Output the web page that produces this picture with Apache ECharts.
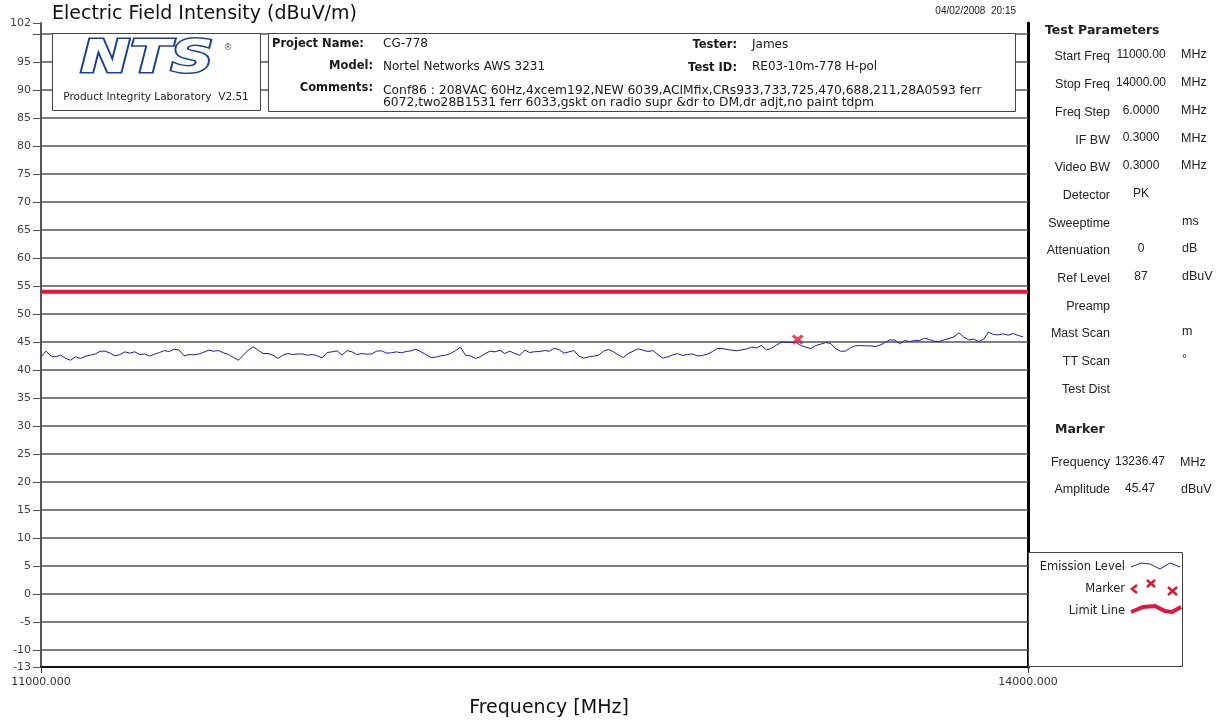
<!DOCTYPE html>
<html>
<head>
<meta charset="utf-8">
<title>Electric Field Intensity</title>
<script src="https://cdn.jsdelivr.net/npm/echarts@6.0.0/dist/echarts.min.js"></script>
<style>
html,body{margin:0;padding:0;background:#fff;}
#chart{width:1221px;height:721px;}
</style>
</head>
<body>
<div id="chart"></div>
<script>
var SWEEP_START = 11000;
var SWEEP_STEP = 15;
var emissionLevel = [
  42.39, 43.40, 42.56, 42.39, 42.68, 42.09, 41.79, 42.39, 42.09, 42.50, 42.68,
  42.90, 43.40, 43.40, 43.05, 42.56, 42.80, 43.28, 43.05, 43.28, 42.80,
  42.90, 42.50, 42.86, 43.16, 43.50, 43.34, 43.75, 43.58, 42.56, 42.80,
  42.74, 42.90, 43.22, 43.58, 43.40, 43.50, 43.10, 42.80, 42.27, 41.79,
  42.68, 43.58, 44.17, 43.58, 42.98, 42.98, 42.68, 42.09, 42.68, 42.98,
  42.80, 42.90, 42.90, 42.68, 42.80, 42.56, 42.21, 43.16, 43.28, 43.46,
  42.68, 43.50, 43.28, 42.80, 42.98, 42.86, 42.90, 43.40, 43.46, 43.05,
  43.10, 43.28, 43.10, 43.34, 43.46, 43.75, 43.28, 42.80, 42.27, 42.33,
  42.56, 42.68, 42.98, 43.50, 44.10, 42.68, 42.56, 42.09, 42.39, 42.98,
  43.40, 43.28, 43.58, 42.98, 43.40, 42.98, 42.68, 43.58, 43.16, 43.30,
  43.34, 43.50, 43.40, 43.93, 43.64, 43.05, 43.28, 43.50, 42.50, 42.15,
  42.39, 42.50, 42.68, 43.40, 43.70, 43.28, 42.68, 42.27, 42.98, 43.40,
  43.80, 43.58, 43.34, 43.50, 42.80, 42.15, 42.39, 42.74, 42.98, 42.62,
  42.80, 42.90, 42.56, 42.62, 42.86, 43.28, 43.87, 43.87, 43.70, 43.58,
  43.46, 43.64, 43.80, 44.10, 43.99, 44.41, 43.64, 43.87, 44.47, 45.00,
  45.00, 44.94, 44.94, 44.41, 44.10, 43.87, 44.41, 44.65, 44.94, 44.77,
  43.87, 43.40, 43.40, 43.99, 44.35, 44.41, 44.35, 44.35, 44.23, 44.47,
  44.94, 45.42, 45.36, 44.71, 45.30, 45.12, 45.30, 45.30, 45.72, 45.48,
  45.18, 45.12, 45.42, 45.66, 45.96, 46.67, 45.90, 45.42, 45.54, 45.12,
  45.54, 46.79, 46.37, 46.30, 46.49, 46.25, 46.55, 46.20, 45.96
];
var limitLine = [[11000, 54], [14000, 54]];
var markerPoint = [[13300, 45.47]];

var xLabelValues = [11000, 14000];
var yTickValues = [-13, -10, -5, 0, 5, 10, 15, 20, 25, 30, 35, 40, 45, 50, 55, 60, 65, 70, 75, 80, 85, 90, 95, 100, 102];
var yLabelValues = [-13, -10, -5, 0, 5, 10, 15, 20, 25, 30, 35, 40, 45, 50, 55, 60, 65, 70, 75, 80, 85, 90, 95, 102];
var gridLevels = [-10, -5, 0, 5, 10, 15, 20, 25, 30, 35, 40, 45, 50, 55, 60, 65, 70, 75, 80, 85, 90, 95, 100];

var testParams = [
  ['Start Freq', '11000.00', 'MHz'],
  ['Stop Freq', '14000.00', 'MHz'],
  ['Freq Step', '6.0000', 'MHz'],
  ['IF BW', '0.3000', 'MHz'],
  ['Video BW', '0.3000', 'MHz'],
  ['Detector', 'PK', ''],
  ['Sweeptime', '', 'ms'],
  ['Attenuation', '0', 'dB'],
  ['Ref Level', '87', 'dBuV'],
  ['Preamp', '', ''],
  ['Mast Scan', '', 'm'],
  ['TT Scan', '', '\u00b0'],
  ['Test Dist', '', '']
];
var markerParams = [
  ['Frequency', '13236.47', 'MHz'],
  ['Amplitude', '45.47', 'dBuV']
];

var SANS = '"DejaVu Sans", Verdana, sans-serif';
var ARIAL = '"Liberation Sans", Arial, sans-serif';
var RED = '#e0182d';

function txt(x, y, s, size, opts) {
  opts = opts || {};
  return {
    type: 'text', z: 20, silent: true,
    style: {
      text: s, x: x, y: y,
      fontSize: size,
      fontFamily: opts.family || SANS,
      fontWeight: opts.bold ? 'bold' : 'normal',
      fill: opts.color || '#1a1a1a',
      textAlign: opts.align || 'left',
      textVerticalAlign: 'middle'
    }
  };
}
function seg(x1, y1, x2, y2, color, w) {
  return {type: 'line', z: 20, silent: true, shape: {x1: x1, y1: y1, x2: x2, y2: y2},
    style: {stroke: color, lineWidth: w}};
}

function buildGraphic() {
  var g = [];
  // title + date
  g.push(txt(52, 14, 'Electric Field Intensity (dBuV/m)', 19, {color: '#111'}));
  g.push(txt(1016, 11, '04/02/2008  20:15', 10, {family: ARIAL, align: 'right', color: '#222'}));

  // logo box
  g.push({type: 'rect', z: 15, silent: true, shape: {x: 52.5, y: 33.5, width: 208, height: 77},
    style: {fill: '#fff', stroke: '#444', lineWidth: 1}});
  g.push({type: 'text', z: 20, silent: true, x: 147, y: 61, scaleX: 1.35,
    style: {text: 'NTS', fontSize: 44, fontFamily: SANS, fontWeight: 'bold', fontStyle: 'italic',
      fill: '#fff', stroke: '#1d3f8f', lineWidth: 3, textAlign: 'center', textVerticalAlign: 'middle'}});
  g.push(txt(228, 48, '\u00ae', 9, {color: '#555', align: 'center'}));
  g.push(txt(156, 97, 'Product Integrity Laboratory  V2.51', 10.5, {align: 'center', color: '#222'}));

  // project box
  g.push({type: 'rect', z: 15, silent: true, shape: {x: 268.5, y: 33.5, width: 747, height: 78},
    style: {fill: '#fff', stroke: '#444', lineWidth: 1}});
  g.push(txt(272, 44, 'Project Name:', 11.5, {bold: true}));
  g.push(txt(373, 66, 'Model:', 11.5, {bold: true, align: 'right'}));
  g.push(txt(373, 88, 'Comments:', 11.5, {bold: true, align: 'right'}));
  g.push(txt(737, 45, 'Tester:', 11.5, {bold: true, align: 'right'}));
  g.push(txt(737, 68, 'Test ID:', 11.5, {bold: true, align: 'right'}));
  g.push(txt(383, 44, 'CG-778', 12));
  g.push(txt(383, 67, 'Nortel Networks AWS 3231', 12));
  g.push(txt(752, 45, 'James', 12));
  g.push(txt(752, 67, 'RE03-10m-778 H-pol', 12));
  g.push(txt(383, 91, 'Conf86 : 208VAC 60Hz,4xcem192,NEW 6039,ACIMfix,CRs933,733,725,470,688,211,28A0593 ferr', 12.3));
  g.push(txt(383, 103, '6072,two28B1531 ferr 6033,gskt on radio supr &dr to DM,dr adjt,no paint tdpm', 12.3));

  // right panel: test parameters
  g.push(txt(1045, 31, 'Test Parameters', 12.5, {bold: true, color: '#222'}));
  for (var i = 0; i < testParams.length; i++) {
    var y = 57 + i * 27.7;
    g.push(txt(1110, y, testParams[i][0], 12.5, {family: ARIAL, color: '#222', align: 'right'}));
    g.push(txt(1141, y - 2, testParams[i][1], 12, {family: ARIAL, color: '#222', align: 'center'}));
    g.push(txt(testParams[i][2] == 'MHz' ? 1181 : 1182, y - 2, testParams[i][2], 12.5, {family: ARIAL, color: '#222'}));
  }
  g.push(txt(1055, 430, 'Marker', 12.5, {bold: true, color: '#222'}));
  for (var j = 0; j < markerParams.length; j++) {
    var ym = 463 + j * 26.5;
    g.push(txt(1110, ym, markerParams[j][0], 12.5, {family: ARIAL, color: '#222', align: 'right'}));
    g.push(txt(1140, ym - 1, markerParams[j][1], 12, {family: ARIAL, color: '#222', align: 'center'}));
    g.push(txt(markerParams[j][2] == 'MHz' ? 1180 : 1181, ym, markerParams[j][2], 12.5, {family: ARIAL, color: '#222'}));
  }

  // legend box
  g.push({type: 'rect', z: 15, silent: true, shape: {x: 1028.5, y: 552.5, width: 154, height: 114},
    style: {fill: '#fff', stroke: '#444', lineWidth: 1}});
  g.push(txt(1125, 567, 'Emission Level', 11.5, {align: 'right', color: '#222'}));
  g.push(txt(1125, 589, 'Marker', 11.5, {align: 'right', color: '#222'}));
  g.push(txt(1125, 611, 'Limit Line', 11.5, {align: 'right', color: '#222'}));
  g.push({type: 'polyline', z: 20, silent: true,
    shape: {points: [[1131, 567], [1141, 563], [1150, 564], [1160, 569], [1170, 563], [1180, 567]]},
    style: {stroke: '#1c1ca8', lineWidth: 1, fill: null}});
  g.push({type: 'polyline', z: 20, silent: true,
    shape: {points: [[1137, 585], [1132, 589], [1137, 593]]},
    style: {stroke: RED, lineWidth: 2.5, fill: null}});
  g.push(seg(1147, 580, 1155, 587, RED, 2.5));
  g.push(seg(1155, 580, 1147, 587, RED, 2.5));
  g.push(seg(1168, 587, 1177, 595, RED, 2.5));
  g.push(seg(1177, 587, 1168, 595, RED, 2.5));
  g.push({type: 'polyline', z: 20, silent: true,
    shape: {points: [[1131, 612], [1143, 607], [1155, 606], [1165, 611], [1172, 612], [1181, 607]]},
    style: {stroke: '#e3173e', lineWidth: 4, fill: null}});

  // x axis name
  g.push(txt(549, 708, 'Frequency [MHz]', 19, {color: '#111', align: 'center'}));
  return g;
}

var emissionData = [];
for (var i = 0; i < emissionLevel.length; i++) {
  emissionData.push([SWEEP_START + i * SWEEP_STEP, emissionLevel[i]]);
}

var myChart = echarts.init(document.getElementById('chart'));
var option = {
  animation: false,
  backgroundColor: '#fff',
  grid: {left: 41, right: 193, top: 23, bottom: 54},
  xAxis: {
    type: 'value', min: 11000, max: 14000,
    axisLine: {show: true, onZero: false, lineStyle: {color: '#111', width: 2}},
    axisTick: {show: true, length: 6, customValues: xLabelValues, lineStyle: {color: '#333', width: 1}},
    axisLabel: {show: true, customValues: xLabelValues, margin: 10, fontSize: 11, fontFamily: SANS, color: '#333',
      formatter: function(v) { return v.toFixed(3); }},
    splitLine: {show: false}
  },
  yAxis: [{
    type: 'value', min: -13, max: 102, position: 'left',
    axisLine: {show: true, onZero: false, lineStyle: {color: '#555', width: 2}},
    axisTick: {show: true, length: 8, customValues: yTickValues, lineStyle: {color: '#555', width: 1}},
    axisLabel: {show: true, customValues: yLabelValues, margin: 10, fontSize: 11, fontFamily: SANS, color: '#444'},
    splitLine: {show: false}
  }, {
    type: 'value', min: -13, max: 102, position: 'right',
    axisLine: {show: true, lineStyle: {color: '#000', width: 3}},
    axisTick: {show: false}, axisLabel: {show: false}, splitLine: {show: false}
  }],
  series: [
    {
      name: 'Limit Line', type: 'line', data: limitLine, symbol: 'none', z: 4,
      lineStyle: {color: '#e3173e', width: 4},
      markLine: {
        silent: true, symbol: ['none', 'none'], label: {show: false}, z: 1,
        lineStyle: {color: '#555', width: 1.5, type: 'solid'},
        data: gridLevels.map(function(v) { return {yAxis: v}; })
      }
    },
    {
      name: 'Emission Level', type: 'line', data: emissionData, symbol: 'none', z: 3,
      lineStyle: {color: '#1c1ca8', width: 1}
    },
    {
      name: 'Marker', type: 'scatter', data: markerPoint, z: 5,
      symbol: 'path://M0,2 L2,0 L5,3 L8,0 L10,2 L7,5 L10,8 L8,10 L5,7 L2,10 L0,8 L3,5 Z',
      symbolSize: [12, 10], itemStyle: {color: RED}
    }
  ],
  graphic: buildGraphic()
};
myChart.setOption(option);

window.addEventListener('resize', function() {
  myChart.resize();
});
</script>
</body>
</html>
